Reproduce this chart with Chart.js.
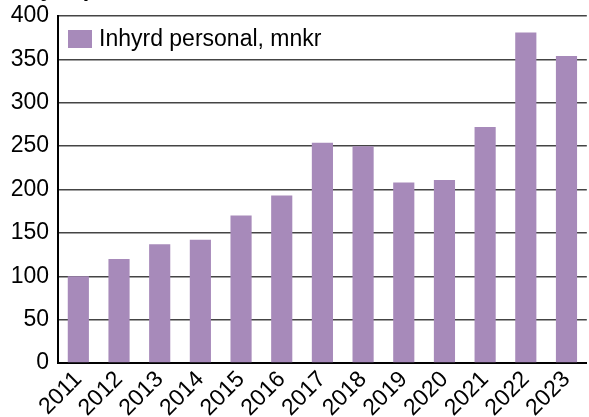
<!DOCTYPE html>
<html>
<head>
<meta charset="utf-8">
<script src="https://cdn.jsdelivr.net/npm/chart.js@4"></script>
<style>
    html, body { margin: 0; padding: 0; background: #fff; overflow: hidden; }
    #wrap { position: relative; width: 589px; height: 417px; }
</style>
</head>
<body>
<div id="wrap"><canvas id="showOne" width="589" height="417"></canvas></div>
<script>
let years = ["2011", "2012", "2013", "2014", "2015", "2016", "2017", "2018", "2019", "2020", "2021", "2022", "2023"];
let inhyrd = [100, 120, 137, 142, 170, 193, 254, 250, 208, 211, 272, 381, 354];
let seriesLabel = "Inhyrd personal, mnkr";
let titleText = "Inhyrd personal";
let barColor = "#a78aba";
let font = "'Liberation Sans', Arial, sans-serif";

// title sits mostly above the picture, only descenders show
let topTitle = {
    id: 'topTitle',
    afterDraw(chart) {
        let ctx = chart.ctx;
        ctx.save();
        ctx.fillStyle = '#000';
        ctx.font = 'bold 23px ' + font;
        ctx.textBaseline = 'bottom';
        ctx.fillText(titleText, 6, 1);
        ctx.restore();
    }
};

// legend box inside the plot area, top left
let innerLegend = {
    id: 'innerLegend',
    afterDatasetsDraw(chart) {
        let ctx = chart.ctx;
        let area = chart.chartArea;
        ctx.save();
        ctx.fillStyle = barColor;
        ctx.fillRect(area.left + 10, area.top + 14, 24, 18);
        ctx.fillStyle = '#000';
        ctx.font = '23px ' + font;
        ctx.textBaseline = 'middle';
        ctx.fillText(seriesLabel, area.left + 41, area.top + 24);
        ctx.restore();
    }
};

let ctx = document.getElementById('showOne');
let myChart = new Chart(ctx, {
    type: 'bar',
    data: {
        labels: years,
        datasets: [{
            label: seriesLabel,
            data: inhyrd,
            backgroundColor: barColor,
            borderWidth: 0,
            categoryPercentage: 1,
            barPercentage: 0.52
        }]
    },
    options: {
        responsive: false,
        animation: false,
        devicePixelRatio: 1,
        layout: { padding: { top: 16, right: 0, left: 0, bottom: 0 } },
        plugins: {
            legend: { display: false },
            tooltip: { enabled: false }
        },
        scales: {
            x: {
                grid: { display: false, drawTicks: false },
                border: { color: '#000', width: 2 },
                ticks: {
                    color: '#000',
                    font: { family: font, size: 23 },
                    autoSkip: false,
                    maxRotation: 45,
                    minRotation: 45,
                    padding: 3
                },
                afterFit(scale) { scale.height = 54; }
            },
            y: {
                min: 0,
                max: 400,
                grid: { color: '#444', lineWidth: 1.5, drawTicks: false },
                border: { color: '#000', width: 2 },
                ticks: {
                    stepSize: 50,
                    autoSkip: false,
                    color: '#000',
                    font: { family: font, size: 23 },
                    padding: 9
                },
                afterFit(scale) {
                    scale.width = 58;
                    scale.paddingTop = 0;
                    scale.paddingBottom = 0;
                }
            }
        }
    },
    plugins: [topTitle, innerLegend]
});
</script>
</body>
</html>
